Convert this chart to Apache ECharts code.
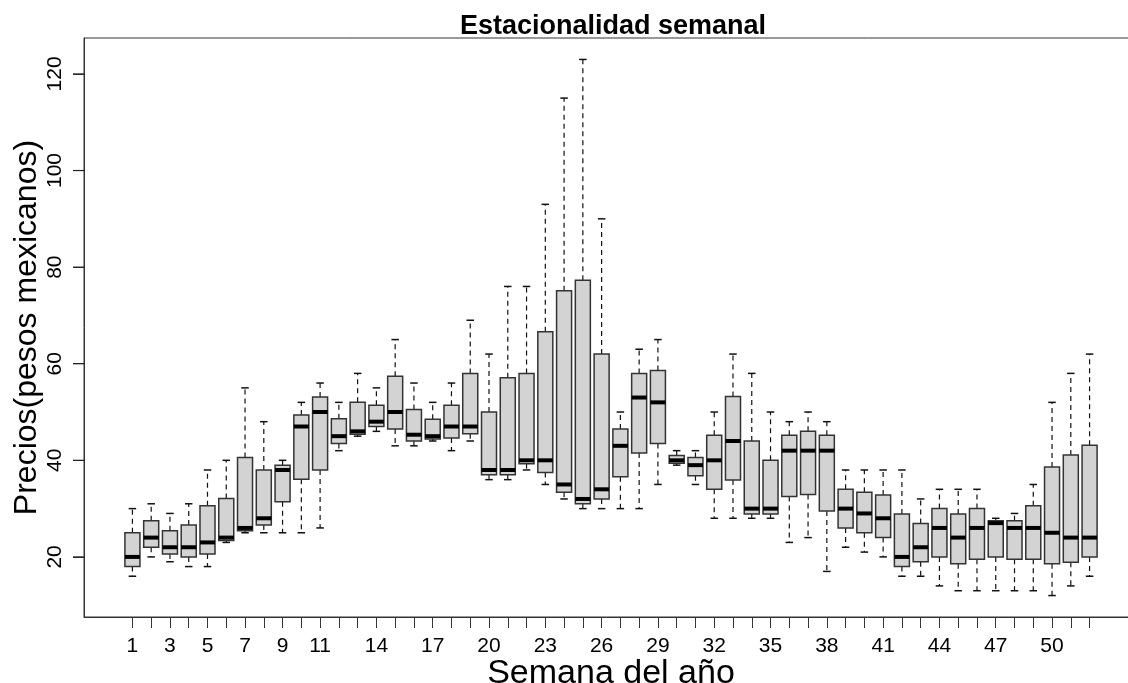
<!DOCTYPE html>
<html lang="es">
<head>
  <meta charset="UTF-8">
  <title>Estacionalidad semanal</title>
  <style>
    html, body { margin: 0; padding: 0; background: #fff; }
    #main { width: 1128px; height: 683px; }
  </style>
</head>
<body>
<div id="main"></div>
<script src="https://cdn.jsdelivr.net/npm/echarts@6/dist/echarts.min.js"></script>
<script>
  // semanas del año y resumen de cada caja (bigote inf, Q1, mediana, Q3, bigote sup)
  var weeks = [1, 2, 3, 4, 5, 6, 7, 8, 9, 10, 11, 12, 13, 14, 15, 16, 17, 18, 19, 20, 21, 22, 23, 24, 25, 26,
               27, 28, 29, 30, 31, 32, 33, 34, 35, 36, 37, 38, 39, 40, 41, 42, 43, 44, 45, 46, 47, 48, 49, 50, 51, 52];
  var weekLabels = [1, 3, 5, 7, 9, 11, 14, 17, 20, 23, 26, 29, 32, 35, 38, 41, 44, 47, 50];
  var priceTicks = [20, 40, 60, 80, 100, 120];

  var lowWhisker = [16, 20, 19, 18, 18, 23, 25, 25, 25, 25, 26, 42, 45, 46, 43, 43, 44, 42, 44, 36, 36, 38, 35, 32, 30, 30,
                    30, 30, 35, 39, 35, 28, 28, 28, 28, 23, 24, 17, 22, 21, 20, 16, 16, 14, 13, 13, 13, 13, 13, 12, 14, 16];
  var q1 = [18, 22, 20.6, 20, 20.6, 23.4, 25.4, 26.6, 31.4, 36.1, 38, 43.5, 45.4, 47, 46.5, 44, 44.4, 44.6, 45.5, 37, 37, 39.3, 37.5, 33.4, 31, 32,
            36.6, 41.5, 43.5, 39.4, 36.8, 34, 35.9, 28.9, 28.9, 32.5, 32.9, 29.5, 26, 25, 24, 18, 19, 20, 18.6, 19.5, 20, 19.5, 19.5, 18.6, 18.9, 20];
  var median = [20, 24, 22, 22, 23, 24, 26, 28, 38, 47, 50, 45, 46, 48, 50, 45.3, 45, 47, 47, 38, 38, 40, 40, 35, 32, 34,
                43, 53, 52, 40, 39, 40, 44, 30, 30, 42, 42, 42, 30, 29, 28, 20, 22, 26, 24, 26, 27, 26, 26, 25, 24, 24];
  var q3 = [25, 27.5, 25.4, 26.6, 30.6, 32.1, 40.6, 38, 39, 49.4, 53.1, 48.6, 52, 51.4, 57.4, 50.5, 48.5, 51.4, 58, 50, 57.1, 58, 66.6, 75.1, 77.3, 62,
            46.5, 58, 58.6, 41, 40.6, 45.2, 53.2, 44, 40, 45.2, 46, 45.2, 34, 33.4, 32.8, 28.9, 26.9, 30, 28.9, 30, 27.5, 27.5, 30.6, 38.6, 41.1, 43.1];
  var highWhisker = [30, 31, 29, 31, 38, 40, 55, 48, 40, 52, 56, 52, 58, 55, 65, 56, 52, 56, 69, 62, 76, 76, 93, 115, 123, 90,
                     50, 63, 65, 42, 42, 50, 62, 58, 50, 48, 50, 48, 38, 38, 38, 38, 32, 34, 34, 34, 28, 29, 35, 52, 58, 62];

  var xMin = -1.58, xMax = 54.58;
  var yMin = 7.56, yMax = 127.44;

  var rows = weeks.map(function (w, i) {
    return [w, lowWhisker[i], q1[i], median[i], q3[i], highWhisker[i]];
  });

  var chart = echarts.init(document.getElementById('main'));
  var font = 'Liberation Sans, Arial, sans-serif';

  // caja estilo R: relleno gris, mediana gruesa, bigotes punteados
  function renderBox(params, api) {
    var x = api.value(0);
    var half = api.size([0.8, 0])[0] / 2;
    var staple = half / 2;
    var pLow = api.coord([x, api.value(1)]);
    var pQ1 = api.coord([x, api.value(2)]);
    var pMed = api.coord([x, api.value(3)]);
    var pQ3 = api.coord([x, api.value(4)]);
    var pHigh = api.coord([x, api.value(5)]);
    var cx = pMed[0];
    var dash = { stroke: '#111', lineWidth: 1.2, lineDash: [5, 4] };
    var solid = { stroke: '#111', lineWidth: 1.5 };
    return {
      type: 'group',
      children: [
        { type: 'line', shape: { x1: cx, y1: pQ3[1], x2: cx, y2: pHigh[1] }, style: dash },
        { type: 'line', shape: { x1: cx, y1: pQ1[1], x2: cx, y2: pLow[1] }, style: dash },
        { type: 'line', shape: { x1: cx - staple, y1: pHigh[1], x2: cx + staple, y2: pHigh[1] }, style: solid },
        { type: 'line', shape: { x1: cx - staple, y1: pLow[1], x2: cx + staple, y2: pLow[1] }, style: solid },
        { type: 'rect', shape: { x: cx - half, y: pQ3[1], width: half * 2, height: pQ1[1] - pQ3[1] },
          style: { fill: '#d3d3d3', stroke: '#333', lineWidth: 1.5 } },
        { type: 'line', shape: { x1: cx - half, y1: pMed[1], x2: cx + half, y2: pMed[1] },
          style: { stroke: '#000', lineWidth: 4 } }
      ]
    };
  }

  // marcas del eje y, hacia fuera del borde izquierdo
  function renderYTick(params, api) {
    var p = api.coord([xMin, api.value(1)]);
    return {
      type: 'line',
      z2: 100,
      shape: { x1: p[0] - 11, y1: p[1], x2: p[0], y2: p[1] },
      style: { stroke: '#222', lineWidth: 1.2 }
    };
  }

  var option = {
    backgroundColor: '#fff',
    animation: false,
    title: {
      text: 'Estacionalidad semanal',
      left: 455,
      top: 8,
      textStyle: { fontFamily: font, fontSize: 27, fontWeight: 'bold', color: '#000' }
    },
    grid: {
      left: 84, right: -10, top: 38, bottom: 66,
      outerBoundsMode: 'none', containLabel: false,
      show: true, borderColor: '#333', borderWidth: 1
    },
    xAxis: {
      type: 'value',
      min: xMin,
      max: xMax,
      name: 'Semana del año',
      nameLocation: 'middle',
      nameGap: 40,
      nameMoveOverlap: false,
      nameTextStyle: { fontFamily: font, fontSize: 34, color: '#000' },
      axisLine: { show: true, onZero: false, lineStyle: { color: '#333', width: 1 } },
      splitLine: { show: false },
      axisTick: { show: true, length: 11, customValues: weeks, lineStyle: { color: '#333' } },
      axisLabel: { customValues: weekLabels, margin: 19, fontFamily: font, fontSize: 21, color: '#000' }
    },
    yAxis: {
      type: 'value',
      min: yMin,
      max: yMax,
      name: 'Precios(pesos mexicanos)',
      nameLocation: 'middle',
      nameRotate: 90,
      nameGap: 41,
      nameMoveOverlap: false,
      nameTextStyle: { fontFamily: font, fontSize: 32, color: '#000' },
      axisLine: { show: true, onZero: false, lineStyle: { color: '#333', width: 1 } },
      splitLine: { show: false },
      axisTick: { show: true, length: 11, customValues: priceTicks, lineStyle: { color: '#333', width: 1 } },
      axisLabel: { customValues: priceTicks, rotate: 90, margin: 18, fontFamily: font, fontSize: 21, color: '#000' }
    },
    series: [{
      type: 'custom',
      renderItem: renderBox,
      encode: { x: 0, y: [1, 2, 3, 4, 5] },
      data: rows
    }, {
      type: 'custom',
      renderItem: renderYTick,
      clip: false,
      silent: true,
      z: 10,
      encode: { x: 0, y: 1 },
      data: priceTicks.map(function (v) { return [weeks[0], v]; })
    }]
  };

  chart.setOption(option);
</script>
</body>
</html>
